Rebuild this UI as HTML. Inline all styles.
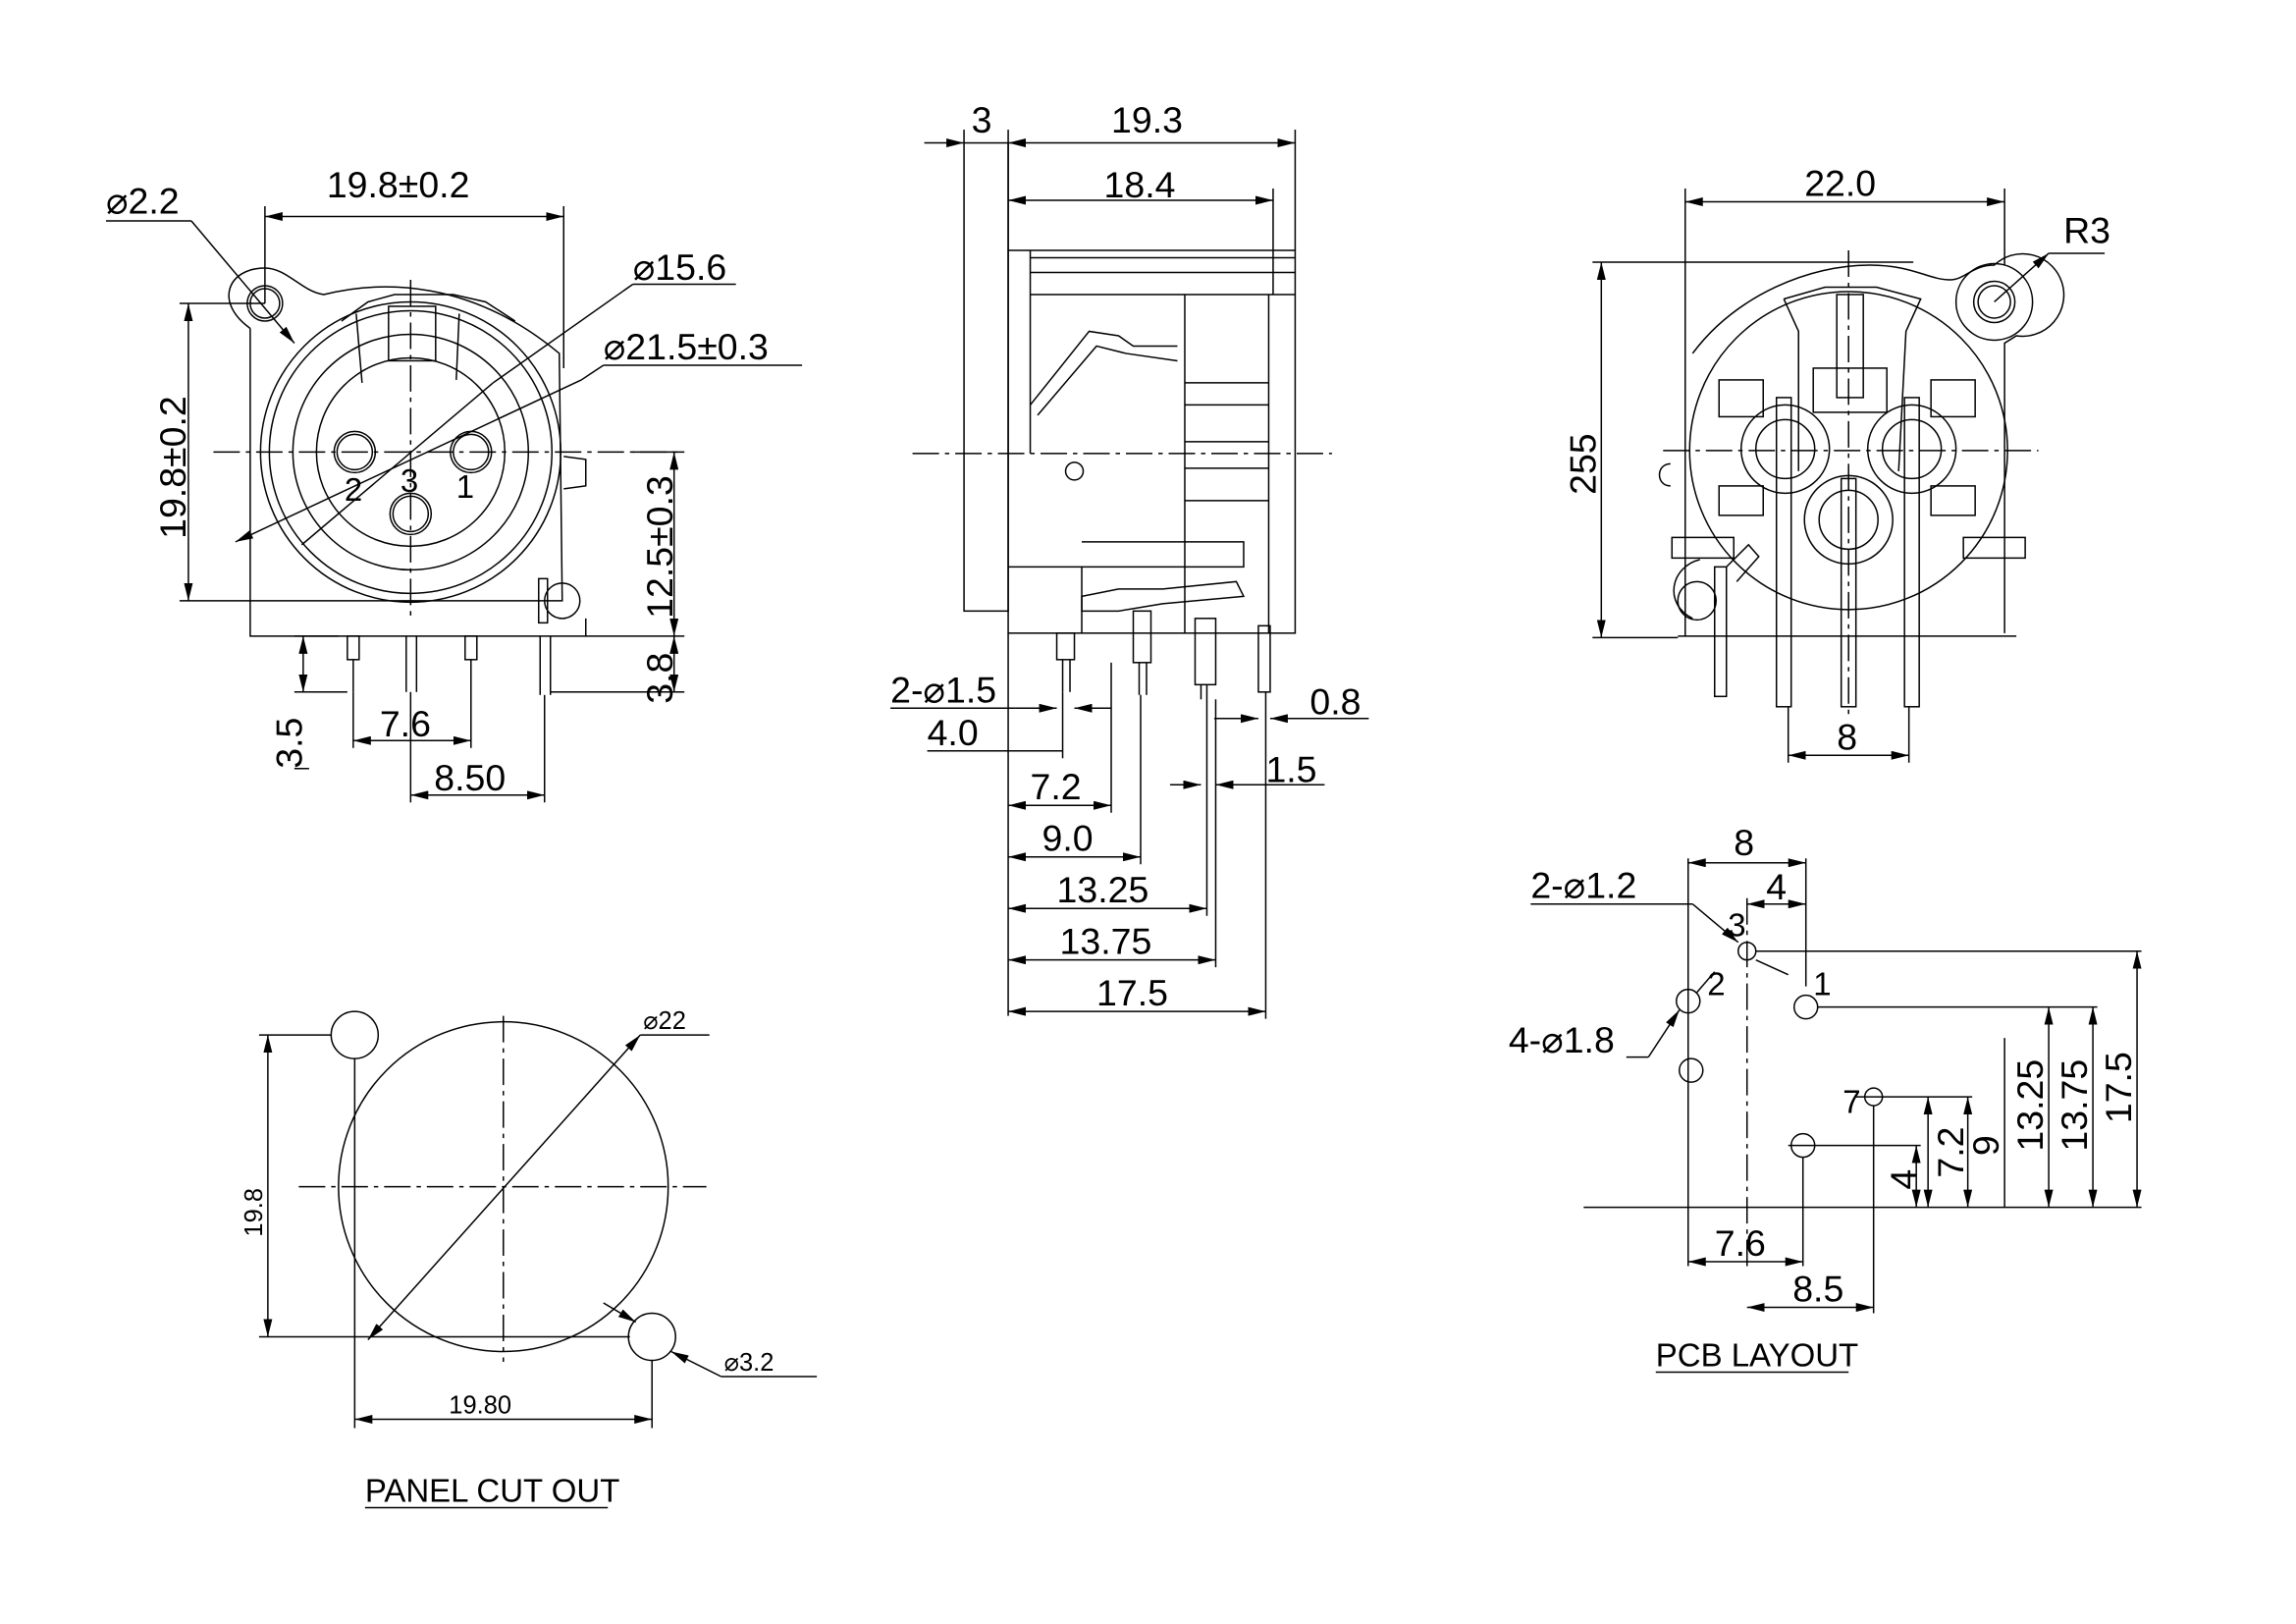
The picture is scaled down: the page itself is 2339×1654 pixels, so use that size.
<!DOCTYPE html>
<html><head><meta charset="utf-8"><style>
html,body{margin:0;padding:0;background:#fff;}
svg{display:block;}
text{font-family:"Liberation Sans",sans-serif;fill:#000;}
</style></head><body>
<svg width="2339" height="1654" viewBox="0 0 1560 1103" xmlns="http://www.w3.org/2000/svg">
<defs>
<marker id="a" viewBox="0 0 12 6" refX="12" refY="3" markerWidth="12" markerHeight="6" orient="auto-start-reverse" markerUnits="userSpaceOnUse"><path d="M0,0 L12,3 L0,6 z" fill="#000"/></marker>
</defs>
<g stroke="#000" stroke-width="1" fill="none">
<path d="M170,223 C145,205 155,182 180,182 C195,182 205,198 220,200 C260,190 320,190 380,240 L382,408 L370,408"/>
<path d="M170,223 L170,432 L398,432 L398,420"/>
<circle cx="180" cy="206" r="12"/><circle cx="180" cy="206" r="10"/>
<circle cx="382" cy="408" r="12"/>
<circle cx="279" cy="307" r="102"/>
<circle cx="279" cy="307" r="96"/>
<circle cx="279" cy="307" r="80"/>
<circle cx="279" cy="307" r="64"/>
<path d="M232,218 L250,205 L268,200 L308,200 L330,205 L350,218"/>
<rect x="264" y="208" width="32" height="37"/>
<line x1="242" y1="213" x2="246" y2="260"/>
<line x1="312" y1="213" x2="310" y2="258"/>
<circle cx="241" cy="307" r="14"/><circle cx="241" cy="307" r="12"/>
<circle cx="320" cy="307" r="14"/><circle cx="320" cy="307" r="12"/>
<circle cx="279" cy="349" r="14"/><circle cx="279" cy="349" r="12"/>
<path d="M383,310 L398,312 L398,330 L383,332"/>
<rect x="366" y="393" width="6" height="30"/>
<g stroke-dasharray="18,4,3,4">
<line x1="145" y1="307" x2="460" y2="307"/>
<line x1="279" y1="190" x2="279" y2="420"/>
</g>
<rect x="236" y="432" width="8" height="16"/>
<line x1="240" y1="448" x2="240" y2="470"/>
<line x1="276" y1="432" x2="276" y2="470"/><line x1="283" y1="432" x2="283" y2="470"/>
<rect x="316" y="432" width="8" height="16"/>
<line x1="367" y1="432" x2="367" y2="472"/><line x1="374" y1="432" x2="374" y2="472"/>
<line x1="180" y1="140" x2="180" y2="206"/><line x1="383" y1="140" x2="383" y2="250"/>
<line x1="180" y1="147" x2="383" y2="147" marker-start="url(#a)" marker-end="url(#a)"/>
<line x1="122" y1="206" x2="180" y2="206"/><line x1="122" y1="408" x2="370" y2="408"/>
<line x1="128" y1="206" x2="128" y2="408" marker-start="url(#a)" marker-end="url(#a)"/>
<line x1="72" y1="150" x2="130" y2="150"/><line x1="130" y1="150" x2="200" y2="233" marker-end="url(#a)"/>
<line x1="160" y1="368" x2="395" y2="258" marker-start="url(#a)"/>
<line x1="395" y1="258" x2="410" y2="248"/><line x1="410" y1="248" x2="545" y2="248"/>
<line x1="205" y1="370" x2="335" y2="260"/>
<line x1="335" y1="260" x2="430" y2="193"/><line x1="430" y1="193" x2="500" y2="193"/>
<line x1="430" y1="307" x2="465" y2="307"/><line x1="398" y1="432" x2="465" y2="432"/><line x1="374" y1="470" x2="465" y2="470"/>
<line x1="458" y1="307" x2="458" y2="432" marker-start="url(#a)" marker-end="url(#a)"/>
<line x1="458" y1="432" x2="458" y2="470" marker-start="url(#a)" marker-end="url(#a)"/>
<line x1="200" y1="432" x2="230" y2="432"/><line x1="200" y1="470" x2="236" y2="470"/>
<line x1="206" y1="432" x2="206" y2="470" marker-start="url(#a)" marker-end="url(#a)"/>
<line x1="240" y1="470" x2="240" y2="508"/><line x1="320" y1="448" x2="320" y2="508"/>
<line x1="240" y1="503" x2="320" y2="503" marker-start="url(#a)" marker-end="url(#a)"/>
<line x1="279" y1="470" x2="279" y2="545"/><line x1="370" y1="472" x2="370" y2="545"/>
<line x1="279" y1="540" x2="370" y2="540" marker-start="url(#a)" marker-end="url(#a)"/>
<line x1="200" y1="522" x2="210" y2="522"/>

<rect x="655" y="97" width="30" height="318"/>
<rect x="685" y="170" width="195" height="260"/>
<line x1="700" y1="175" x2="880" y2="175"/><line x1="700" y1="185" x2="880" y2="185"/><line x1="700" y1="200" x2="880" y2="200"/>
<line x1="700" y1="170" x2="700" y2="308"/><line x1="805" y1="200" x2="805" y2="430"/>
<line x1="805" y1="260" x2="862" y2="260"/><line x1="805" y1="275" x2="862" y2="275"/>
<line x1="805" y1="300" x2="862" y2="300"/><line x1="805" y1="318" x2="862" y2="318"/>
<line x1="805" y1="340" x2="862" y2="340"/><line x1="862" y1="200" x2="862" y2="430"/>
<path d="M700,275 L740,225 L760,228 L770,235 L800,235"/>
<path d="M705,282 L745,235 L765,240 L800,245"/>
<circle cx="730" cy="320" r="6"/>
<path d="M735,368 L845,368 L845,385 L735,385"/>
<path d="M735,405 L760,400 L790,400 L840,395 L845,405 L790,410 L760,415 L735,415 Z"/>
<path d="M685,385 L735,385 L735,430"/>
<rect x="718" y="430" width="12" height="18"/><line x1="722" y1="448" x2="722" y2="470"/><line x1="727" y1="448" x2="727" y2="470"/>
<rect x="770" y="415" width="12" height="35"/><line x1="774" y1="450" x2="774" y2="472"/><line x1="779" y1="450" x2="779" y2="472"/>
<rect x="812" y="420" width="14" height="45"/><line x1="816" y1="465" x2="816" y2="475"/>
<rect x="855" y="425" width="8" height="45"/>
<g stroke-dasharray="18,4,3,4"><line x1="620" y1="308" x2="905" y2="308"/></g>
<line x1="685" y1="88" x2="685" y2="170"/><line x1="655" y1="88" x2="655" y2="97"/><line x1="880" y1="88" x2="880" y2="170"/><line x1="865" y1="128" x2="865" y2="200"/>
<line x1="628" y1="97" x2="655" y2="97" marker-end="url(#a)"/>
<line x1="685" y1="97" x2="880" y2="97" marker-start="url(#a)" marker-end="url(#a)"/>
<line x1="685" y1="136" x2="865" y2="136" marker-start="url(#a)" marker-end="url(#a)"/>
<line x1="685" y1="430" x2="685" y2="690"/>
<line x1="605" y1="481" x2="690" y2="481"/><line x1="690" y1="481" x2="718" y2="481" marker-end="url(#a)"/><line x1="730" y1="481" x2="755" y2="481" marker-start="url(#a)"/>
<line x1="630" y1="510" x2="722" y2="510"/><line x1="722" y1="470" x2="722" y2="515"/>
<line x1="685" y1="547" x2="755" y2="547" marker-start="url(#a)" marker-end="url(#a)"/><line x1="755" y1="450" x2="755" y2="552"/>
<line x1="685" y1="582" x2="775" y2="582" marker-start="url(#a)" marker-end="url(#a)"/><line x1="775" y1="472" x2="775" y2="587"/>
<line x1="685" y1="617" x2="820" y2="617" marker-start="url(#a)" marker-end="url(#a)"/><line x1="820" y1="465" x2="820" y2="622"/>
<line x1="685" y1="652" x2="826" y2="652" marker-start="url(#a)" marker-end="url(#a)"/><line x1="826" y1="475" x2="826" y2="657"/>
<line x1="685" y1="687" x2="860" y2="687" marker-start="url(#a)" marker-end="url(#a)"/><line x1="860" y1="470" x2="860" y2="692"/>
<line x1="795" y1="533" x2="816" y2="533" marker-end="url(#a)"/><line x1="826" y1="533" x2="900" y2="533" marker-start="url(#a)"/>
<line x1="825" y1="488" x2="855" y2="488" marker-end="url(#a)"/><line x1="863" y1="488" x2="930" y2="488" marker-start="url(#a)"/>

<circle cx="1256" cy="306" r="108"/>
<path d="M1150,240 C1180,200 1230,180 1270,180 C1300,180 1310,190 1325,190 C1335,190 1340,180 1355,180 A28,28 0 1 1 1370,228 L1362,233 L1362,430"/>
<circle cx="1355" cy="205" r="26"/><circle cx="1355" cy="205" r="14"/><circle cx="1355" cy="205" r="11"/>
<path d="M1212,203 L1240,195 L1275,195 L1305,203 L1295,225 L1290,320 M1212,203 L1222,225 L1222,320"/>
<rect x="1248" y="200" width="18" height="70"/>
<rect x="1232" y="250" width="50" height="30"/>
<circle cx="1213" cy="305" r="20"/><circle cx="1213" cy="305" r="30"/>
<circle cx="1299" cy="305" r="20"/><circle cx="1299" cy="305" r="30"/>
<circle cx="1256" cy="353" r="20"/><circle cx="1256" cy="353" r="30"/>
<rect x="1168" y="258" width="30" height="25"/><rect x="1312" y="258" width="30" height="25"/>
<rect x="1168" y="330" width="30" height="20"/><rect x="1312" y="330" width="30" height="20"/>
<rect x="1136" y="365" width="42" height="14"/><rect x="1334" y="365" width="42" height="14"/>
<path d="M1150,420 C1130,410 1135,385 1155,380"/>
<circle cx="1153" cy="408" r="13"/>
<path d="M1140,432 L1370,432"/>
<path d="M1135,315 C1125,315 1125,330 1135,330"/>
<rect x="1207" y="270" width="10" height="210"/><rect x="1251" y="325" width="10" height="155"/><rect x="1294" y="270" width="10" height="210"/>
<rect x="1165" y="385" width="8" height="88"/>
<path d="M1173,385 L1188,370 L1195,378 L1180,395"/>
<g stroke-dasharray="18,4,3,4"><line x1="1130" y1="306" x2="1385" y2="306"/><line x1="1256" y1="170" x2="1256" y2="485"/></g>
<line x1="1145" y1="128" x2="1145" y2="432"/><line x1="1362" y1="128" x2="1362" y2="180"/>
<line x1="1145" y1="137" x2="1362" y2="137" marker-start="url(#a)" marker-end="url(#a)"/>
<line x1="1082" y1="178" x2="1300" y2="178"/><line x1="1082" y1="433" x2="1140" y2="433"/>
<line x1="1088" y1="178" x2="1088" y2="433" marker-start="url(#a)" marker-end="url(#a)"/>
<line x1="1355" y1="205" x2="1392" y2="172" marker-end="url(#a)"/><line x1="1392" y1="172" x2="1430" y2="172"/>
<line x1="1215" y1="480" x2="1215" y2="518"/><line x1="1297" y1="480" x2="1297" y2="518"/>
<line x1="1215" y1="513" x2="1297" y2="513" marker-start="url(#a)" marker-end="url(#a)"/>

<circle cx="342" cy="806" r="112"/>
<circle cx="241" cy="703" r="16"/><circle cx="443" cy="908" r="16"/>
<g stroke-dasharray="18,4,3,4"><line x1="203" y1="806" x2="480" y2="806"/><line x1="342" y1="690" x2="342" y2="925"/></g>
<line x1="250" y1="910" x2="435" y2="703" marker-start="url(#a)" marker-end="url(#a)"/><line x1="435" y1="703" x2="482" y2="703"/>
<line x1="176" y1="703" x2="225" y2="703"/><line x1="176" y1="908" x2="428" y2="908"/>
<line x1="182" y1="703" x2="182" y2="908" marker-start="url(#a)" marker-end="url(#a)"/>
<line x1="241" y1="719" x2="241" y2="970"/><line x1="443" y1="924" x2="443" y2="970"/>
<line x1="241" y1="964" x2="443" y2="964" marker-start="url(#a)" marker-end="url(#a)"/>
<line x1="410" y1="885" x2="432" y2="898" marker-end="url(#a)"/><line x1="456" y1="918" x2="490" y2="935" marker-start="url(#a)"/><line x1="490" y1="935" x2="555" y2="935"/>
<line x1="248" y1="1024" x2="413" y2="1024"/>

<circle cx="1187" cy="646" r="6"/>
<circle cx="1147" cy="680" r="8"/><circle cx="1227" cy="684" r="8"/>
<circle cx="1149" cy="727" r="8"/><circle cx="1225" cy="778" r="8"/>
<circle cx="1273" cy="745" r="6"/>
<g stroke-dasharray="18,4,3,4"><line x1="1187" y1="610" x2="1187" y2="860"/></g>
<line x1="1147" y1="583" x2="1147" y2="860"/><line x1="1227" y1="583" x2="1227" y2="670"/>
<line x1="1147" y1="586" x2="1227" y2="586" marker-start="url(#a)" marker-end="url(#a)"/>
<line x1="1187" y1="614" x2="1227" y2="614" marker-start="url(#a)" marker-end="url(#a)"/>
<line x1="1040" y1="614" x2="1150" y2="614"/><line x1="1150" y1="614" x2="1181" y2="640" marker-end="url(#a)"/>
<line x1="1193" y1="652" x2="1215" y2="662"/>
<line x1="1105" y1="718" x2="1120" y2="718"/><line x1="1120" y1="718" x2="1141" y2="686" marker-end="url(#a)"/>
<line x1="1153" y1="674" x2="1165" y2="660"/>
<line x1="1193" y1="646" x2="1455" y2="646"/>
<line x1="1235" y1="684" x2="1425" y2="684"/>
<line x1="1260" y1="745" x2="1340" y2="745"/><line x1="1215" y1="778" x2="1305" y2="778"/>
<line x1="1076" y1="820" x2="1455" y2="820"/>
<line x1="1452" y1="646" x2="1452" y2="820" marker-start="url(#a)" marker-end="url(#a)"/>
<line x1="1422" y1="684" x2="1422" y2="820" marker-start="url(#a)" marker-end="url(#a)"/>
<line x1="1392" y1="684" x2="1392" y2="820" marker-start="url(#a)" marker-end="url(#a)"/>
<line x1="1362" y1="705" x2="1362" y2="820"/>
<line x1="1337" y1="745" x2="1337" y2="820" marker-start="url(#a)" marker-end="url(#a)"/>
<line x1="1310" y1="745" x2="1310" y2="820" marker-start="url(#a)" marker-end="url(#a)"/>
<line x1="1302" y1="778" x2="1302" y2="820" marker-start="url(#a)" marker-end="url(#a)"/>
<line x1="1225" y1="786" x2="1225" y2="860"/>
<line x1="1147" y1="857" x2="1225" y2="857" marker-start="url(#a)" marker-end="url(#a)"/>
<line x1="1273" y1="751" x2="1273" y2="892"/>
<line x1="1187" y1="888" x2="1273" y2="888" marker-start="url(#a)" marker-end="url(#a)"/>
<line x1="1125" y1="932" x2="1256" y2="932"/>
</g>
<g font-size="25">
<text x="72" y="145">⌀2.2</text>
<text x="222" y="134">19.8±0.2</text>
<text x="430" y="190">⌀15.6</text>
<text x="410" y="244">⌀21.5±0.3</text>
<text x="234" y="340" font-size="22">2</text><text x="272" y="334" font-size="22">3</text><text x="310" y="338" font-size="22">1</text>
<text transform="translate(126,366) rotate(-90)">19.8±0.2</text>
<text transform="translate(457,420) rotate(-90)">12.5±0.3</text>
<text transform="translate(457,478) rotate(-90)">3.8</text>
<text transform="translate(205,522) rotate(-90)">3.5</text>
<text x="258" y="500">7.6</text>
<text x="295" y="537">8.50</text>
<text x="660" y="90">3</text><text x="755" y="90">19.3</text><text x="750" y="134">18.4</text>
<text x="605" y="477">2-⌀1.5</text><text x="630" y="506">4.0</text>
<text x="890" y="485">0.8</text><text x="860" y="531">1.5</text>
<text x="700" y="543">7.2</text><text x="708" y="578">9.0</text>
<text x="718" y="613">13.25</text><text x="720" y="648">13.75</text><text x="745" y="683">17.5</text>
<text x="1226" y="133">22.0</text><text x="1402" y="165">R3</text>
<text transform="translate(1084,336) rotate(-90)">255</text>
<text x="1248" y="509">8</text>
<text x="1178" y="581">8</text><text x="1200" y="611">4</text>
<text x="1040" y="610">2-⌀1.2</text>
<text x="1174" y="636" font-size="22">3</text><text x="1160" y="676" font-size="22">2</text><text x="1232" y="676" font-size="22">1</text>
<text x="1025" y="715">4-⌀1.8</text>
<text x="1252" y="756" font-size="22">7</text>
<text transform="translate(1448,763) rotate(-90)">17.5</text>
<text transform="translate(1418,782) rotate(-90)">13.75</text>
<text transform="translate(1388,782) rotate(-90)">13.25</text>
<text transform="translate(1358,785) rotate(-90)">9</text>
<text transform="translate(1334,800) rotate(-90)">7.2</text>
<text transform="translate(1302,808) rotate(-90)">4</text>
<text x="1165" y="853">7.6</text><text x="1218" y="884">8.5</text>
<text x="1125" y="928" font-size="22">PCB LAYOUT</text>
<text x="248" y="1020" font-size="22">PANEL CUT OUT</text>
</g>
<g font-size="17" fill="#555">
<text x="437" y="699">⌀22</text>
<text x="492" y="931">⌀3.2</text>
<text x="305" y="960">19.80</text>
<text transform="translate(178,840) rotate(-90)">19.8</text>
</g>
</svg>
</body></html>
